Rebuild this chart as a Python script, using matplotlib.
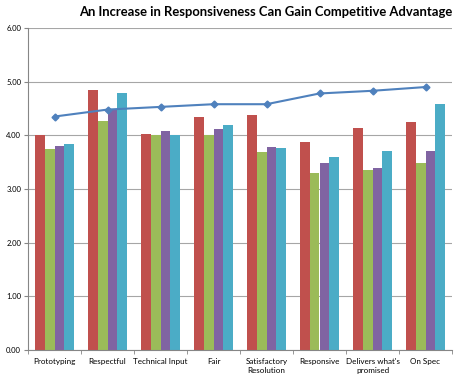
import matplotlib.pyplot as plt
import numpy as np

plt.rcParams['font.family'] = ['Lato', 'DejaVu Sans']

categories = ['Prototyping', 'Respectful', 'Technical Input', 'Fair',
              'Satisfactory\nResolution', 'Responsive', "Delivers what's\npromised", 'On Spec']
red_vals = [4.00, 4.84, 4.03, 4.35, 4.37, 3.87, 4.13, 4.24]
green_vals = [3.74, 4.27, 4.00, 4.00, 3.69, 3.29, 3.35, 3.49]
purple_vals = [3.80, 4.49, 4.09, 4.11, 3.79, 3.49, 3.40, 3.70]
cyan_vals = [3.83, 4.78, 4.00, 4.19, 3.77, 3.59, 3.70, 4.59]
line_vals = [4.35, 4.48, 4.53, 4.58, 4.58, 4.78, 4.83, 4.90]

colors = ['#C0504D', '#9BBB59', '#8064A2', '#4BACC6']

fig = plt.figure(figsize=(4.59, 3.78), dpi=100)
ax = fig.add_axes([28 / 459, 1 - 350 / 378, 424 / 459, 322 / 378])

index = np.arange(len(categories))
bar_width = 0.185
series = [red_vals, green_vals, purple_vals, cyan_vals]
for i, vals in enumerate(series):
    ax.bar(index + (i - 1.5) * bar_width, vals, bar_width, color=colors[i], zorder=2)

ax.plot(index, line_vals, color='#4F81BD', linewidth=1.5, marker='D', markersize=3.5, zorder=3)

ax.set_xlim(-0.5, len(categories) - 0.5)
ax.set_ylim(0, 6)
ax.set_yticks(np.arange(0, 6.01, 1))
ax.set_yticklabels([f'{v:.2f}' for v in np.arange(0, 6.01, 1)], fontsize=5.5)
ax.yaxis.grid(True, color='#A6A6A6', linewidth=0.8, zorder=0)
ax.set_axisbelow(True)

ax.set_xticks(index)
ax.set_xticklabels(categories, fontsize=5.8)
ax.set_xticks(np.arange(-0.5, len(categories), 1), minor=True)
ax.tick_params(axis='x', which='major', length=0, pad=6)
ax.tick_params(axis='x', which='minor', length=3, color='#868686')
ax.tick_params(axis='y', length=3, color='#868686', pad=2)

for side in ['top', 'right']:
    ax.spines[side].set_visible(False)
for side in ['left', 'bottom']:
    ax.spines[side].set_color('#868686')
    ax.spines[side].set_linewidth(0.8)

fig.text(452 / 459, 1 - 12 / 378, 'An Increase in Responsiveness Can Gain Competitive Advantage',
         ha='right', va='center', fontsize=9.4, fontweight='bold')

fig.savefig('out.png', dpi=100)
